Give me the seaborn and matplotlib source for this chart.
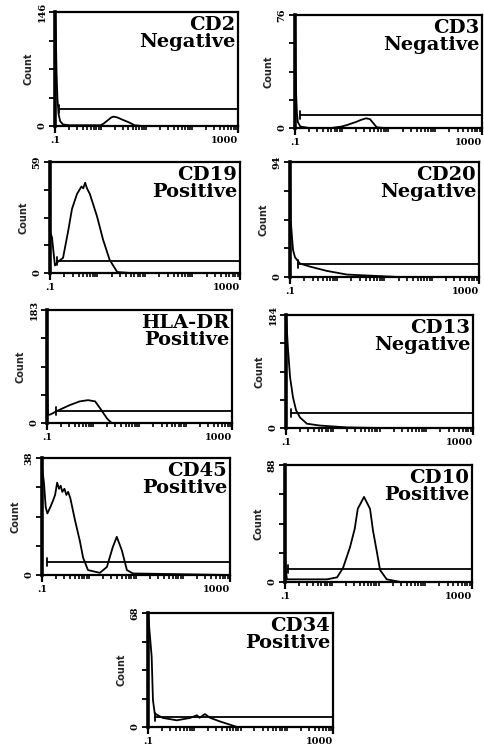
import matplotlib
matplotlib.use("Agg")
import matplotlib.pyplot as plt
import seaborn as sns
from matplotlib.ticker import LogLocator, NullFormatter, FixedLocator

# Histogrammes de cytométrie (intensité en échelle log, 0.1 - 1000)
markers = ["CD2", "CD3", "CD19", "CD20", "HLA-DR", "CD13", "CD45", "CD10", "CD34"]
results = ["Negative", "Negative", "Positive", "Negative", "Positive",
           "Negative", "Positive", "Positive", "Positive"]
y_max = [146, 76, 59, 94, 183, 184, 38, 88, 68]

cd2_x = [0.1, 0.104, 0.108, 0.113, 0.12, 0.13, 0.15, 0.2, 0.5, 1.0, 1.15, 1.4, 1.7, 1.9, 2.3, 3.0, 4.0, 5.5, 8, 20, 1000]
cd2_y = [146, 120, 70, 35, 15, 6, 2, 1, 1, 1, 3, 7, 11, 12, 11, 8, 5, 1, 0, 0, 0]

cd3_x = [0.1, 0.103, 0.106, 0.11, 0.115, 0.13, 0.2, 0.6, 1.0, 1.3, 1.6, 2.0, 2.6, 3.3, 4.0, 4.8, 5.6, 8, 30, 1000]
cd3_y = [76, 40, 22, 10, 4, 1, 0, 0, 1, 2, 3, 4, 5.5, 6.5, 6, 3, 0.5, 0, 0, 0]

cd19_x = [0.1, 0.11, 0.127, 0.147, 0.188, 0.24, 0.29, 0.37, 0.46, 0.5, 0.55, 0.6, 0.69, 0.98, 1.3, 1.8, 2.6, 5, 1000]
cd19_y = [22, 19, 4, 6, 8, 22, 34, 42, 46, 45, 48, 45, 42, 30, 18, 7, 0.5, 0, 0]

cd20_x = [0.1, 0.103, 0.116, 0.128, 0.163, 0.265, 0.6, 1.6, 5.7, 20, 1000]
cd20_y = [94, 47, 22, 16, 11, 8.5, 5, 2, 1, 0, 0]

hla_x = [0.1, 0.105, 0.12, 0.17, 0.31, 0.51, 0.77, 1.1, 1.4, 2.0, 2.5, 10, 1000]
hla_y = [60, 13, 14, 20, 29, 35, 37, 35, 24, 7, 0, 0, 0]

cd13_x = [0.1, 0.11, 0.122, 0.141, 0.164, 0.2, 0.28, 0.53, 2, 10, 1000]
cd13_y = [184, 130, 83, 50, 29, 17, 7, 4, 1, 0, 0]

cd45_x = [0.1, 0.11, 0.12, 0.13, 0.15, 0.17, 0.19, 0.21, 0.23, 0.25, 0.27, 0.3, 0.33, 0.36, 0.4,
          0.5, 0.64, 0.75, 0.95, 1.7, 2.4, 3.2, 3.9, 5.0, 6.4, 8.6, 1000]
cd45_y = [35, 30, 22, 20, 22, 24, 26, 30, 28, 29, 27, 28, 26, 27, 25,
          18, 11, 5.6, 1.6, 0.7, 2.6, 9, 12.4, 8, 1.6, 0.5, 0]

cd10_x = [0.1, 0.105, 0.11, 0.3, 0.79, 1.3, 1.74, 2.45, 3.1, 3.6, 4.9, 6.6, 7.6, 9.3, 10.8, 15, 30, 1000]
cd10_y = [18, 8, 2, 2, 2, 3.5, 10.5, 26, 40, 55, 64, 55, 39, 22, 9, 2, 0, 0]

cd34_x = [0.1, 0.12, 0.128, 0.14, 0.21, 0.42, 0.81, 1.14, 1.3, 1.7, 2.2, 3.6, 5.9, 8.4, 1000]
cd34_y = [68, 42, 16, 8, 5.4, 4, 5.4, 7, 5.5, 7.7, 5.5, 3.3, 1.4, 0, 0]

curves_x = [cd2_x, cd3_x, cd19_x, cd20_x, hla_x, cd13_x, cd45_x, cd10_x, cd34_x]
curves_y = [cd2_y, cd3_y, cd19_y, cd20_y, hla_y, cd13_y, cd45_y, cd10_y, cd34_y]

# marqueur (barre horizontale) de chaque histogramme
gate_level = [22, 9, 6.5, 11, 19, 24, 4.2, 10, 6]
gate_start = [0.12, 0.13, 0.14, 0.15, 0.16, 0.13, 0.127, 0.115, 0.14]

# positions des axes en pixels (gauche, droite, haut, bas)
W, H = 485, 746
boxes = [(55, 238, 12, 126), (295, 482, 15, 128),
         (50, 240, 162, 273), (290, 479, 162, 277),
         (47, 232, 310, 423), (286, 473, 315, 428),
         (42, 230, 458, 575), (285, 472, 465, 582),
         (148, 333, 613, 727)]

sns.set_theme(style="ticks")
plt.rcParams['font.family'] = ['DejaVu Serif']

fig = plt.figure(figsize=(W / 100, H / 100), dpi=100)
fig.patch.set_facecolor("white")

for i, name in enumerate(markers):
    l, r, t, b = boxes[i]
    ax = fig.add_axes([l / W, 1 - b / H, (r - l) / W, (b - t) / H])
    ax.set_facecolor("white")
    sns.lineplot(x=curves_x[i], y=curves_y[i], ax=ax, color="black", lw=1.3,
                 estimator=None, sort=False)
    ax.set_xscale("log")
    ax.set_xlim(0.1, 1000)
    ymax = y_max[i]
    ax.set_ylim(0, ymax)

    # barre du marqueur
    g = gate_level[i]
    ax.plot([gate_start[i], 1000], [g, g], color="black", lw=1.3)
    ax.plot([gate_start[i], gate_start[i]], [g - 0.035 * ymax, g + 0.035 * ymax], color="black", lw=1.3)

    for side in ["top", "right", "bottom"]:
        ax.spines[side].set_linewidth(1.6)
        ax.spines[side].set_color("black")
    ax.spines["left"].set_linewidth(2.6)
    ax.spines["left"].set_color("black")

    ax.xaxis.set_major_locator(FixedLocator([0.1, 1000]))
    ax.set_xticklabels([".1", "1000"], fontsize=7, fontweight="bold")
    ax.get_xticklabels()[1].set_ha("right")
    ax.xaxis.set_minor_locator(LogLocator(base=10, subs=range(1, 10), numticks=20))
    ax.xaxis.set_minor_formatter(NullFormatter())
    ax.tick_params(axis="x", which="major", direction="out", length=5, width=1.6, pad=2, colors="black")
    ax.tick_params(axis="x", which="minor", direction="out", length=3, width=1.2, colors="black")

    ax.set_yticks([0, ymax / 4, ymax / 2, 3 * ymax / 4, ymax])
    ax.set_yticklabels(["0", "", "", "", str(ymax)], fontsize=7, fontweight="bold",
                       rotation=90, va="center")
    ax.tick_params(axis="y", direction="out", length=4, width=1.3, pad=2, colors="black")
    ax.set_ylabel("Count", fontsize=7, fontweight="bold", labelpad=3,
                  family=["DejaVu Sans"])
    ax.set_xlabel("")

    ax.text(0.985, 0.965, name + "\n" + results[i], transform=ax.transAxes,
            ha="right", va="top", fontsize=14, fontweight="bold",
            linespacing=0.95, color="black")

fig.savefig("out.png", dpi=100, facecolor="white")
